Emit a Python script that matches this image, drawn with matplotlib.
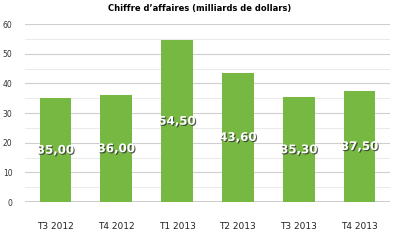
import matplotlib.pyplot as plt
import matplotlib.patheffects as pe

categories = ["T3 2012", "T4 2012", "T1 2013", "T2 2013", "T3 2013", "T4 2013"]
values = [35.00, 36.00, 54.50, 43.60, 35.30, 37.50]
labels = ["35,00", "36,00", "54,50", "43,60", "35,30", "37,50"]

fig = plt.figure(figsize=(4, 2.4), dpi=100)
ax = fig.add_axes([0.0625, 0.158, 0.9125, 0.742])

ax.set_ylim(0, 60)
ax.set_xlim(-0.5, len(categories) - 0.5)
ax.set_yticks(range(0, 70, 10))
ax.set_yticks(range(5, 60, 10), minor=True)
ax.grid(axis="y", which="major", color="#cfcfcf", linewidth=0.8)
ax.grid(axis="y", which="minor", color="#e6e6e6", linewidth=0.6)
ax.set_axisbelow(True)
for s in ax.spines.values():
    s.set_visible(False)
ax.axhline(0, color="#c4c4c4", linewidth=1.2)

x = range(len(categories))
ax.bar(x, values, width=0.52, color="#77b843", zorder=2)

for i, (v, lab) in enumerate(zip(values, labels)):
    ax.text(i, v / 2, lab, ha="center", va="center", color="white",
            fontsize=8.5, fontweight="bold", zorder=3,
            path_effects=[pe.withSimplePatchShadow(offset=(0.8, -0.8),
                                                   shadow_rgbFace="#333333",
                                                   alpha=0.8)])

ax.set_xticks(list(x), categories)
ax.tick_params(axis="x", length=0, pad=14, labelsize=6.5, colors="#222222")
ax.tick_params(axis="y", length=0, pad=9, labelsize=5.5, colors="#333333")
ax.tick_params(which="minor", length=0)

fig.suptitle("Chiffre d\u2019affaires (milliards de dollars)", y=0.985,
             fontsize=6, fontweight="bold")

fig.savefig("out.png", dpi=100)
